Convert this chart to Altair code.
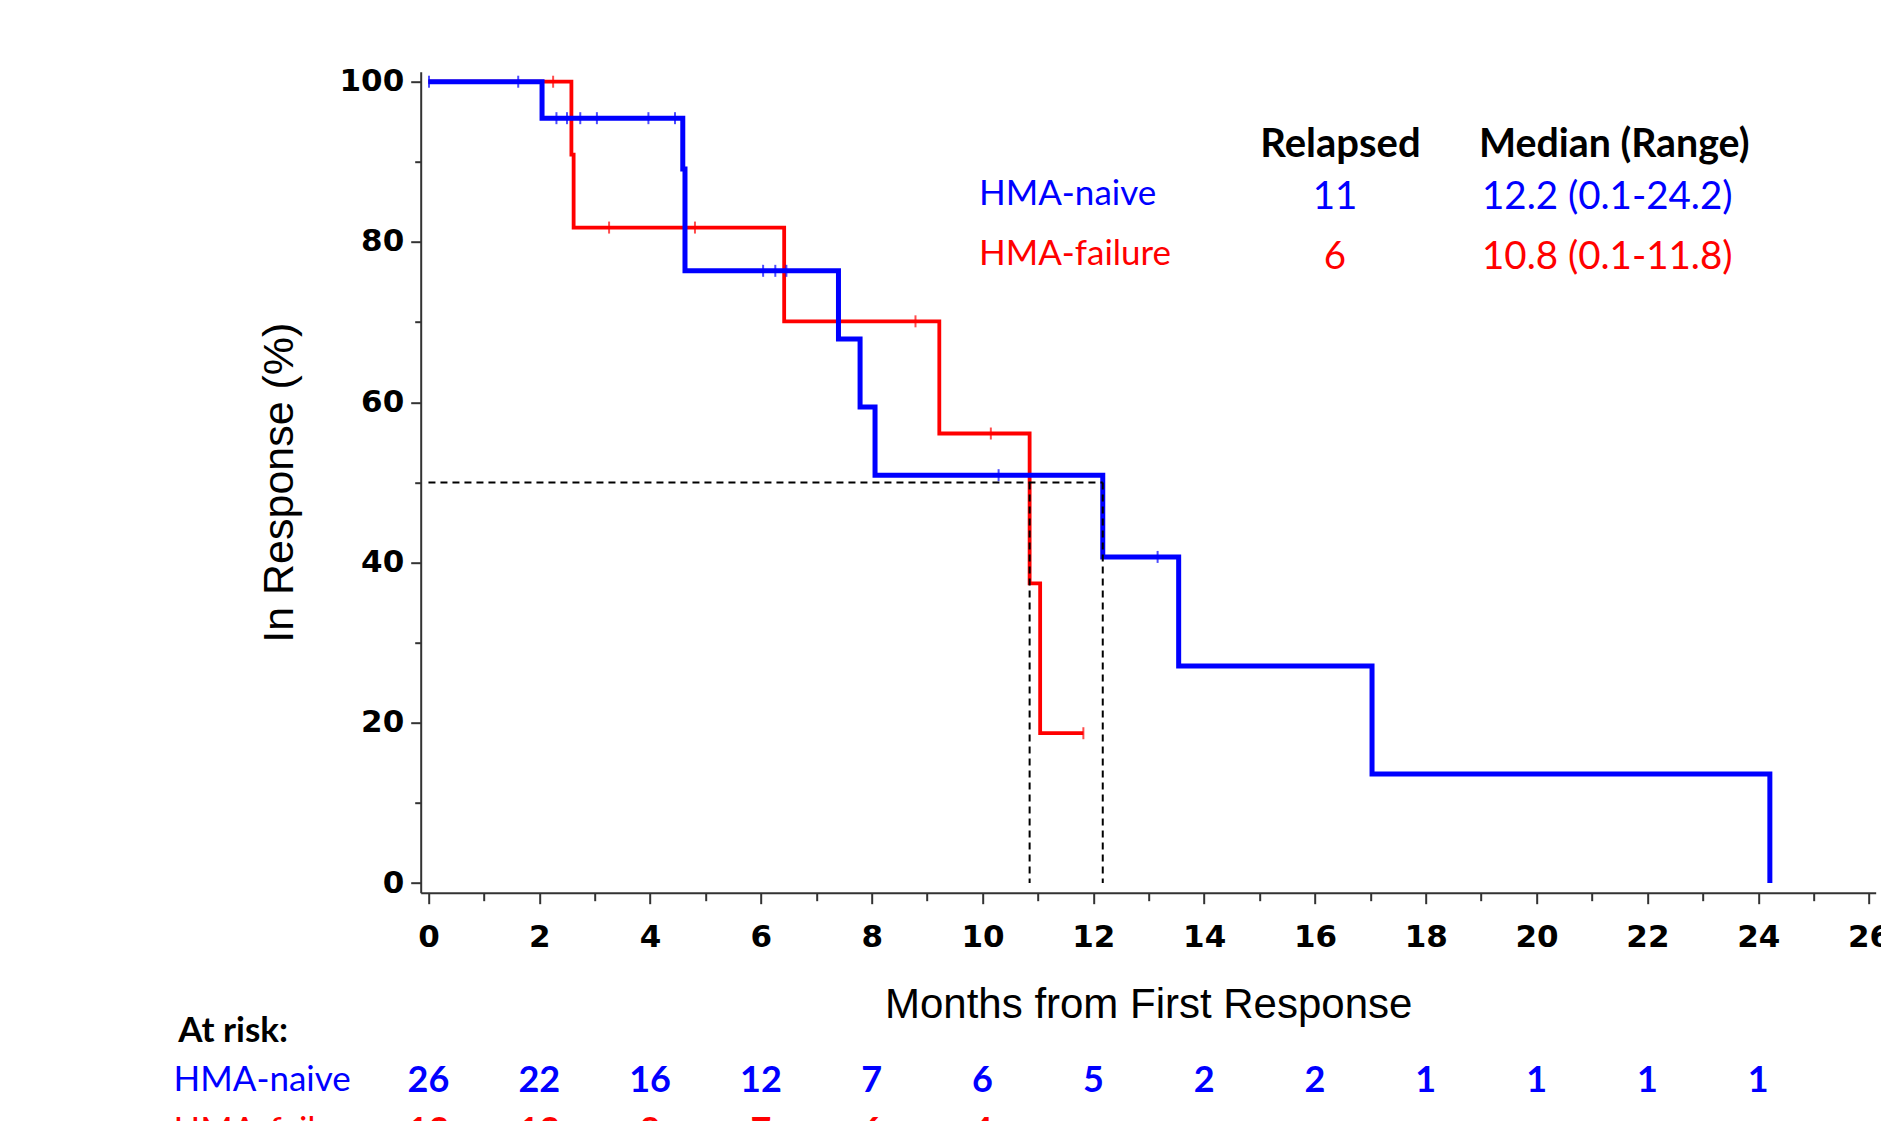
import altair as alt
import pandas as pd

BLUE = "#0000FF"
RED = "#FF0000"

# ---- Kaplan-Meier step curves (months, % in response) ----
naive_time = [0, 2.05, 4.59, 4.63, 7.40, 7.79, 8.06, 12.17, 13.54, 17.03, 24.21]
naive_surv = [100, 95.45, 89.1, 76.4, 67.9, 59.4, 50.9, 40.7, 27.1, 13.6, 0]
failure_time = [0, 2.58, 2.62, 6.42, 9.22, 10.85, 11.04, 11.82]
failure_surv = [100, 90.9, 81.8, 70.1, 56.1, 37.4, 18.7, 18.7]

# ---- censor marks ----
naive_cens_time = [0.01, 1.62, 2.31, 2.50, 2.74, 3.04, 3.97, 4.45, 6.04, 6.26, 6.46, 10.29, 13.16]
naive_cens_surv = [100, 100, 95.45, 95.45, 95.45, 95.45, 95.45, 95.45, 76.4, 76.4, 76.4, 50.9, 40.7]
failure_cens_time = [2.25, 3.26, 4.81, 8.79, 10.15, 11.82]
failure_cens_surv = [100, 81.8, 81.8, 70.1, 56.1, 18.7]

# ---- medians ----
median_naive = 12.17
median_failure = 10.85
median_level = 50

# ---- summary table ----
groups = ["HMA-naive", "HMA-failure"]
relapsed = ["11", "6"]
median_range = ["12.2 (0.1-24.2)", "10.8 (0.1-11.8)"]
header = ["Relapsed", "Median (Range)"]

# ---- at risk ----
risk_months = [0, 2, 4, 6, 8, 10, 12, 14, 16, 18, 20, 22, 24]
risk_naive = [26, 22, 16, 12, 7, 6, 5, 2, 2, 1, 1, 1, 1]
risk_failure = [13, 13, 8, 7, 6, 4]

W, H = 1455, 821

x_axis = alt.Axis(
    values=list(range(0, 27)),
    labelExpr="datum.value % 2 == 0 ? datum.label : ''",
    tickSize={"condition": {"test": "datum.value % 2 == 0", "value": 11}, "value": 8},
    title="Months from First Response",
    titleFont="Liberation Sans", titleFontSize=42, titleFontWeight="normal",
    titleColor="black", titlePadding=32,
    labelFont="DejaVu Sans", labelFontSize=31, labelFontWeight="bold",
    labelColor="black", labelPadding=19, labelOverlap=False, labelFlush=False,
    grid=False, domainColor="#333333", domainWidth=2,
    tickColor="#333333", tickWidth=2,
)
y_axis = alt.Axis(
    values=list(range(0, 101, 10)),
    labelExpr="datum.value % 20 == 0 ? datum.label : ''",
    tickSize={"condition": {"test": "datum.value % 20 == 0", "value": 10}, "value": 6},
    title="In Response (%)",
    titleFont="Liberation Sans", titleFontSize=43, titleFontWeight="normal",
    titleColor="black", titlePadding=37,
    labelFont="DejaVu Sans", labelFontSize=31, labelFontWeight="bold",
    labelColor="black", labelPadding=7, labelOverlap=False, labelFlush=False,
    grid=False, domainColor="#333333", domainWidth=2,
    tickColor="#333333", tickWidth=2,
)
x_scale = alt.Scale(domain=[-0.14, 26.12], nice=False, zero=False)
y_scale = alt.Scale(domain=[-1.2, 101.25], nice=False, zero=False)


def X(field="t"):
    return alt.X(f"{field}:Q", scale=x_scale, axis=x_axis)


def Y(field="s"):
    return alt.Y(f"{field}:Q", scale=y_scale, axis=y_axis)


naive_df = pd.DataFrame({"t": naive_time, "s": naive_surv})
failure_df = pd.DataFrame({"t": failure_time, "s": failure_surv})
naive_c = pd.DataFrame({"t": naive_cens_time, "s": naive_cens_surv})
failure_c = pd.DataFrame({"t": failure_cens_time, "s": failure_cens_surv})

red_line = alt.Chart(failure_df).mark_line(
    interpolate="step-after", color=RED, strokeWidth=3.8
).encode(x=X(), y=Y())
red_ticks = alt.Chart(failure_c).mark_tick(
    color=RED, orient="vertical", size=12, thickness=2
).encode(x=X(), y=Y())
blue_line = alt.Chart(naive_df).mark_line(
    interpolate="step-after", color=BLUE, strokeWidth=5
).encode(x=X(), y=Y())
blue_ticks = alt.Chart(naive_c).mark_tick(
    color=BLUE, orient="vertical", size=12, thickness=2
).encode(x=X(), y=Y())

med_df = pd.DataFrame({
    "t": [0, median_failure, median_naive],
    "t2": [median_naive, median_failure, median_naive],
    "s": [median_level, median_level, median_level],
    "s2": [median_level, 0, 0],
})
med_rules = alt.Chart(med_df).mark_rule(
    color="black", strokeDash=[7, 5], strokeWidth=2
).encode(x=X(), x2="t2:Q", y=Y(), y2="s2:Q")


def label(text, x, y, color="black", size=35, weight="normal", align="left",
          font="Lato"):
    return alt.Chart(pd.DataFrame({"v": [text]})).mark_text(
        align=align, baseline="middle", font=font, fontSize=size,
        fontWeight=weight, color=color,
    ).encode(x=alt.value(x), y=alt.value(y), text="v:N")


colors = [BLUE, RED]
row_y = [122.5, 182.5]
texts = [
    label(header[0], 919.8, 73.5, size=40, weight="bold", align="center"),
    label(header[1], 1058.3, 73.5, size=39.3, weight="bold"),
]
for i in range(2):
    texts.append(label(groups[i], 558.3, row_y[i], color=colors[i], size=35))
    texts.append(label(relapsed[i], 914.3, row_y[i] + 3, color=colors[i], size=38.5,
                       align="center"))
    texts.append(label(median_range[i], 1061.3, row_y[i] + 3, color=colors[i],
                       size=38.5))

# at-risk table
texts.append(label("At risk:", -242.4, 958.9, size=35, weight="bold"))
risk_rows_y = [1008.0, 1059.5]
for i, counts in enumerate([risk_naive, risk_failure]):
    texts.append(label(groups[i], -247.2, risk_rows_y[i], color=colors[i], size=35))
    df = pd.DataFrame({"t": risk_months[:len(counts)], "n": counts})
    texts.append(
        alt.Chart(df).mark_text(
            align="center", baseline="middle", font="Lato", fontSize=36,
            fontWeight="bold", color=colors[i],
        ).encode(x=X(), y=alt.value(risk_rows_y[i] + 1), text="n:Q")
    )

chart = alt.layer(
    red_line, red_ticks, blue_line, blue_ticks, med_rules, *texts
).properties(
    width=W, height=H,
    autosize=alt.AutoSizeParams(type="none"),
    padding={"left": 412.7, "top": 63.7, "right": 5, "bottom": 228},
).configure(background="white").configure_view(stroke=None)

chart.save("out.html", embed_options={"renderer": "svg", "actions": False})
